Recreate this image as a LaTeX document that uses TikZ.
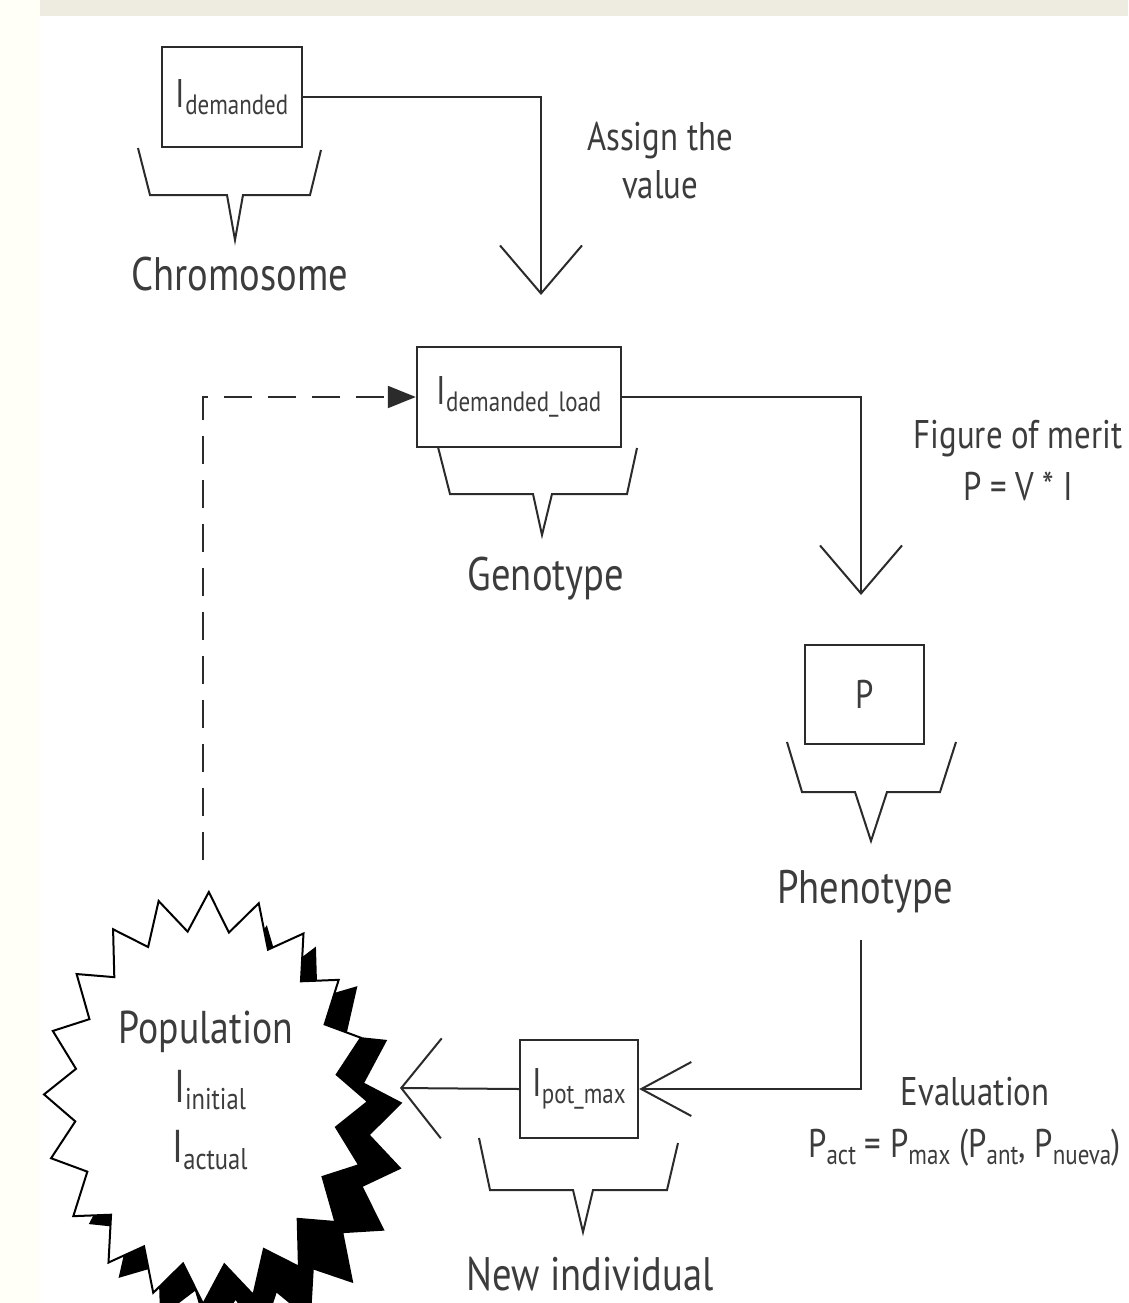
\documentclass[tikz,border=0pt]{standalone}
\usepackage{fontspec}
\setmainfont{PT Sans}[FakeStretch=0.82]
\usetikzlibrary{arrows.meta,calc}
\definecolor{txtc}{HTML}{3C3C3C}
\definecolor{linec}{HTML}{2B2B2B}
\definecolor{bandc}{HTML}{EEEBE0}
\definecolor{bgc}{HTML}{FFFFFF}
\definecolor{stripc}{HTML}{FFFFF8}
\newcommand\fsz[1]{\fontsize{#1}{#1}\selectfont}
\newcommand\lowsub[2]{\raisebox{-7pt}{\fsz{#1}#2}}
\begin{document}
\begin{tikzpicture}[x=1pt,y=-1pt,
  box/.style={draw=linec, line width=2.4pt, fill=white, inner sep=0pt, text=txtc, font=\fsz{40}},
  conn/.style={draw=linec, line width=2pt},
  brace/.style={draw=linec, line width=2pt, line join=miter},
  lbl/.style={text=txtc, inner sep=0pt, anchor=base},
  big/.style={font=\fsz{47}},
  mid/.style={font=\fsz{40}}]
\useasboundingbox (0,0) rectangle (1128,1303);
\fill[bgc] (0,0) rectangle (1128,1303);
\fill[stripc] (0,0) rectangle (40,1303);
\fill[bandc] (40,0) rectangle (1128,16);

% boxes
\node[box, minimum width=140pt, minimum height=100pt] (dem) at (232,97) {I\lowsub{28}{demanded}};
\node[box, minimum width=204pt, minimum height=100pt] (gen) at (519,397) {I\lowsub{28}{demanded\_load}};
\node[box, minimum width=119pt, minimum height=99pt] (pbox) at (864.5,694.5) {P};
\node[box, minimum width=118pt, minimum height=98pt] (pot) at (579,1089) {I\lowsub{28}{pot\_max}};

% braces
\draw[brace] (138,148) -- (150,195) -- (227,195) -- (235,240) -- (243,195) -- (310,195) -- (321,150);
\draw[brace] (438,447) -- (450,494) -- (533,494) -- (542,535) -- (552,494) -- (627,494) -- (637,448);
\draw[brace] (787,742) -- (802,792) -- (855,792) -- (871,841) -- (887,792) -- (940,792) -- (956,742);
\draw[brace] (479,1138) -- (490,1190) -- (573,1190) -- (583,1232) -- (593,1190) -- (667,1190) -- (678,1143);

% labels
\node[lbl, big] (chrom) at (240,290) {Chromosome};
\node[lbl, big] (geno) at (546,590) {Genotype};
\node[lbl, big] (pheno) at (865,903) {Phenotype};
\node[lbl, big] (newind) at (590,1290) {New individual};
\node[lbl, mid] (assign1) at (660,150) {Assign the};
\node[lbl, mid] (assign2) at (660,198) {value};
\node[lbl, mid] (merit1) at (1018,448) {Figure of merit};
\node[lbl, mid] (merit2) at (1018,500) {P = V * I};
\node[lbl, mid] (eval1) at (975,1105) {Evaluation};
\node[lbl, mid, anchor=base west] (eval2) at (808,1157) {P\lowsub{28}{act} = P\lowsub{28}{max} (P\lowsub{28}{ant}, P\lowsub{28}{nueva})};

% star (population)
\fill[black, shift={(32,34)}] ({206+166*cos(98)},{1098-210*sin(98)})
  \foreach \i in {0,...,19} { -- ({206+166*cos(98+18*\i)},{1098-210*sin(98+18*\i)}) -- ({206+132*cos(107+18*\i)},{1098-168*sin(107+18*\i)}) } -- cycle;
\filldraw[fill=white, draw=black, line width=2pt, line join=miter] ({206+162*cos(89)},{1098-206*sin(89)})
  \foreach \i in {0,...,19} { -- ({206+162*cos(89+18*\i)},{1098-206*sin(89+18*\i)}) -- ({206+132*cos(98+18*\i)},{1098-168*sin(98+18*\i)}) } -- cycle;
\node[lbl, font=\fsz{46}] (popl) at (206,1043) {Population};
\node[lbl, font=\fsz{46}] (pinit) at (210,1102) {I\lowsub{30}{initial}};
\node[lbl, font=\fsz{46}] (pact) at (210,1162) {I\lowsub{30}{actual}};

% connector ends
\coordinate (gtip) at (541,295);
\coordinate (ptip) at (861,595);
\coordinate (phbot) at (861,940);
\coordinate (poptip) at (400,1088);
\coordinate (dstart) at (203,860);

% connectors
\draw[conn, -{Straight Barb[length=48pt,width=82pt]}] (dem.east) -| (gtip);
\draw[conn, -{Straight Barb[length=48pt,width=82pt]}] (gen.east) -| (ptip);
\draw[conn, -{Straight Barb[length=50pt,width=54pt]}] (phbot) |- (pot.east);
\draw[conn, -{Straight Barb[length=40pt,width=100pt]}] (pot.west) -- (poptip);
\draw[conn, dash pattern=on 28pt off 16pt, -{Triangle[length=28pt,width=22pt]}] (dstart) |- (gen.west);
\end{tikzpicture}
\end{document}
